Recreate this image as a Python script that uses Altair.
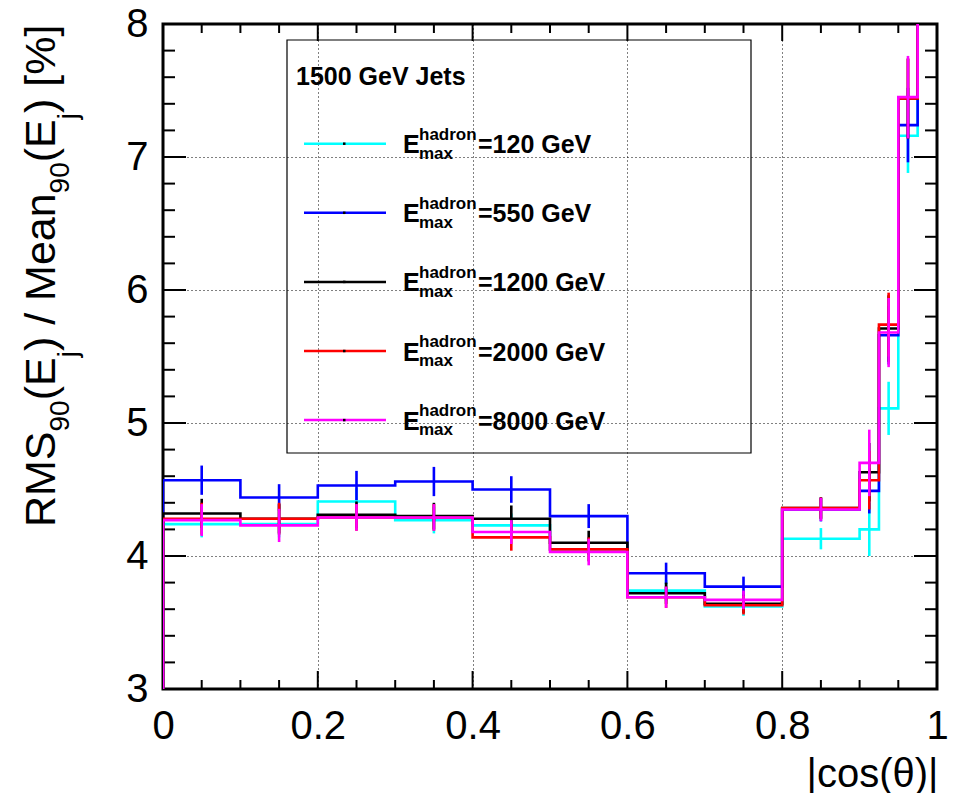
import altair as alt
import pandas as pd

# ---------------- data ----------------
edges = [0.0, 0.1, 0.2, 0.3, 0.4, 0.5, 0.6, 0.7, 0.8, 0.9, 0.925, 0.95, 0.975, 1.0]
series_labels = ["=120 GeV", "=550 GeV", "=1200 GeV", "=2000 GeV", "=8000 GeV"]
colors = ["#00FFFF", "#0000FF", "#000000", "#FF0000", "#FF00FF"]

vals_120 = [4.24, 4.24, 4.41, 4.27, 4.23, 4.05, 3.74, 3.62, 4.13, 4.20, 5.11, 7.16, 8.6]
vals_550 = [4.57, 4.44, 4.53, 4.56, 4.50, 4.30, 3.87, 3.77, 4.35, 4.49, 5.66, 7.24, 8.6]
vals_1200 = [4.32, 4.28, 4.31, 4.30, 4.28, 4.10, 3.72, 3.64, 4.36, 4.63, 5.71, 7.44, 8.6]
vals_2000 = [4.28, 4.28, 4.29, 4.29, 4.14, 4.05, 3.69, 3.63, 4.36, 4.57, 5.74, 7.44, 8.6]
vals_8000 = [4.27, 4.23, 4.29, 4.29, 4.18, 4.03, 3.69, 3.67, 4.35, 4.70, 5.68, 7.45, 8.6]

err_120 = [0.10, 0.10, 0.10, 0.10, 0.09, 0.09, 0.08, 0.07, 0.08, 0.20, 0.20, 0.28, 0.30]
err_550 = [0.11, 0.10, 0.11, 0.11, 0.10, 0.09, 0.08, 0.075, 0.09, 0.17, 0.22, 0.28, 0.30]
err_1200 = [0.11, 0.11, 0.10, 0.10, 0.10, 0.09, 0.08, 0.07, 0.08, 0.22, 0.25, 0.30, 0.30]
err_2000 = [0.12, 0.12, 0.10, 0.10, 0.10, 0.09, 0.08, 0.07, 0.08, 0.22, 0.24, 0.30, 0.30]
err_8000 = [0.12, 0.125, 0.10, 0.10, 0.09, 0.10, 0.08, 0.07, 0.086, 0.25, 0.26, 0.31, 0.30]

all_vals = [vals_120, vals_550, vals_1200, vals_2000, vals_8000]
all_errs = [err_120, err_550, err_1200, err_2000, err_8000]

x_major = [0.0, 0.2, 0.4, 0.6, 0.8, 1.0]
x_minor = [0.05, 0.1, 0.15, 0.25, 0.3, 0.35, 0.45, 0.5, 0.55, 0.65, 0.7, 0.75, 0.85, 0.9, 0.95]
y_major = [3, 4, 5, 6, 7, 8]
y_minor = [3.2, 3.4, 3.6, 3.8, 4.2, 4.4, 4.6, 4.8, 5.2, 5.4, 5.6, 5.8,
           6.2, 6.4, 6.6, 6.8, 7.2, 7.4, 7.6, 7.8]

# y title pieces: (text, kind) -- kind: main / sub / subj
y_title_parts = [("RMS", "main"), ("90", "sub"), ("(E", "main"), ("j", "subj"),
                 (") / Mean", "main"), ("90", "sub"), ("(E", "main"), ("j", "subj"),
                 (") [%]", "main")]

FONT = "Liberation Sans"
W, H = 774, 665
YMIN = 3.0

xs = alt.Scale(domain=[0, 1], nice=False, zero=False)
ys = alt.Scale(domain=[3, 8], nice=False, zero=False)

# ---------------- axes (grid + labels) ----------------
x_axis = alt.Axis(values=x_major, format="~g", labelFont=FONT, labelFontSize=40,
                  labelColor="black", labelPadding=17, labelFlush=False, labelOverlap=False,
                  ticks=False, domain=False, grid=True, gridColor="black",
                  gridDash=[1, 3], gridWidth=1, gridOpacity=1,
                  title="|cos(θ)|", titleFont=FONT, titleFontSize=40,
                  titleFontWeight="normal", titleColor="black",
                  titleAlign="right", titleBaseline="alphabetic",
                  titleX=W + 1, titleY=97, titleAngle=0)
y_axis = alt.Axis(values=y_major, format="d", labelFont=FONT, labelFontSize=40,
                  labelColor="black", labelPadding=15, labelFlush=False, labelOverlap=False,
                  labelBaseline="middle",
                  ticks=False, domain=False, grid=True, gridColor="black",
                  gridDash=[1, 3], gridWidth=1, gridOpacity=1, title=None)


def X(f):
    return alt.X(f, scale=xs, axis=x_axis)


def Y(f):
    return alt.Y(f, scale=ys, axis=y_axis)


xmaj_df = pd.DataFrame({"t": x_major})
xmin_df = pd.DataFrame({"t": x_minor})
ymaj_df = pd.DataFrame({"t": y_major})
ymin_df = pd.DataFrame({"t": y_minor})

layers = []
# bottom & top ticks
layers.append(alt.Chart(xmaj_df).mark_rule(color="black", strokeWidth=2).encode(
    x=X("t:Q"), y=alt.value(H), y2=alt.value(H - 18)))
layers.append(alt.Chart(xmaj_df).mark_rule(color="black", strokeWidth=2).encode(
    x=X("t:Q"), y=alt.value(0), y2=alt.value(17)))
layers.append(alt.Chart(xmin_df).mark_rule(color="black", strokeWidth=2).encode(
    x=X("t:Q"), y=alt.value(H), y2=alt.value(H - 9)))
layers.append(alt.Chart(xmin_df).mark_rule(color="black", strokeWidth=2).encode(
    x=X("t:Q"), y=alt.value(0), y2=alt.value(9)))
# left & right ticks
layers.append(alt.Chart(ymaj_df).mark_rule(color="black", strokeWidth=2).encode(
    y=Y("t:Q"), x=alt.value(0), x2=alt.value(23)))
layers.append(alt.Chart(ymaj_df).mark_rule(color="black", strokeWidth=2).encode(
    y=Y("t:Q"), x=alt.value(W), x2=alt.value(W - 23)))
layers.append(alt.Chart(ymin_df).mark_rule(color="black", strokeWidth=2).encode(
    y=Y("t:Q"), x=alt.value(0), x2=alt.value(12)))
layers.append(alt.Chart(ymin_df).mark_rule(color="black", strokeWidth=2).encode(
    y=Y("t:Q"), x=alt.value(W), x2=alt.value(W - 12)))

one = pd.DataFrame({"a": [0]})

# ---------------- y title built from pieces (sub-scripts) ----------------
GW = {"R": .722, "M": .833, "S": .667, "9": .556, "0": .556, "(": .333, "E": .667,
      "j": .222, ")": .333, " ": .278, "/": .278, "e": .556, "a": .556, "n": .556,
      "[": .278, "%": .889, "]": .278}
TF, SF = 43, 28
base_x = {"main": -108, "sub": -94, "subj": -86}
pos = 503.0
for txt, kind in y_title_parts:
    fs = TF if kind == "main" else SF
    layers.append(alt.Chart(one).mark_text(
        text=txt, angle=270, align="left", baseline="alphabetic",
        font=FONT, fontSize=fs, color="black").encode(
        x=alt.value(base_x[kind]), y=alt.value(pos)))
    pos -= sum(GW[c] for c in txt) * fs

# ---------------- legend box (layout) ----------------
layers.append(alt.Chart(one).mark_rect(filled=False, stroke="black", strokeWidth=1.2).encode(
    x=alt.value(124), x2=alt.value(588), y=alt.value(16), y2=alt.value(429)))
layers.append(alt.Chart(one).mark_text(text="1500 GeV Jets", align="left", baseline="alphabetic",
                                       font=FONT, fontSize=25, fontWeight="bold", color="black").encode(
    x=alt.value(133), y=alt.value(61)))

leg = pd.DataFrame({"row": list(range(len(series_labels))), "label": series_labels, "color": colors})
ROW0, DROW = 119.7, 69.1


def leg_y(off):
    return f"8 - ({ROW0} + {DROW} * datum.row + {off}) / {H / 5.0}"


layers.append(alt.Chart(leg).transform_calculate(ly=leg_y(0)).mark_rule(strokeWidth=2.5).encode(
    x=alt.value(141), x2=alt.value(223), y=Y("ly:Q"),
    color=alt.Color("color:N", scale=None)))
layers.append(alt.Chart(leg).transform_calculate(ly=leg_y(0)).mark_rule(
    strokeWidth=2.5, color="black").encode(
    x=alt.value(180), x2=alt.value(182.5), y=Y("ly:Q")))
layers.append(alt.Chart(leg).transform_calculate(ly=leg_y(9.5)).mark_text(
    text="E", align="left", baseline="alphabetic", font=FONT, fontSize=25,
    fontWeight="bold", color="black").encode(
    x=alt.value(240), y=Y("ly:Q")))
layers.append(alt.Chart(leg).transform_calculate(ly=leg_y(-4)).mark_text(
    text="hadron", align="left", baseline="alphabetic", font=FONT, fontSize=17,
    fontWeight="bold", color="black").encode(
    x=alt.value(256), y=Y("ly:Q")))
layers.append(alt.Chart(leg).transform_calculate(ly=leg_y(15)).mark_text(
    text="max", align="left", baseline="alphabetic", font=FONT, fontSize=17,
    fontWeight="bold", color="black").encode(
    x=alt.value(256), y=Y("ly:Q")))
layers.append(alt.Chart(leg).transform_calculate(ly=leg_y(9.5)).mark_text(
    align="left", baseline="alphabetic", font=FONT, fontSize=25,
    fontWeight="bold", color="black").encode(
    x=alt.value(315), y=Y("ly:Q"), text="label:N"))

# ---------------- histograms with error bars ----------------
for vals, errs, col in zip(all_vals, all_errs, colors):
    xs_pts, ys_pts = [edges[0]], [YMIN]
    for i, v in enumerate(vals):
        xs_pts += [edges[i], edges[i + 1]]
        ys_pts += [v, v]
    step = pd.DataFrame({"x": xs_pts, "y": ys_pts, "o": list(range(len(xs_pts)))})
    layers.append(alt.Chart(step).mark_line(color=col, strokeWidth=2.6, clip=True,
                                            interpolate="linear").encode(
        x=X("x:Q"), y=Y("y:Q"), order="o:Q"))
    centers = [(edges[i] + edges[i + 1]) / 2 for i in range(len(vals))]
    eb = pd.DataFrame({"xc": centers,
                       "lo": [v - e for v, e in zip(vals, errs)],
                       "hi": [v + e for v, e in zip(vals, errs)]})
    layers.append(alt.Chart(eb).mark_rule(color=col, strokeWidth=2.6, clip=True).encode(
        x=X("xc:Q"), y=Y("lo:Q"), y2="hi:Q"))

chart = alt.layer(*layers).properties(
    width=W, height=H,
    padding={"left": 163, "top": 24, "right": 20, "bottom": 104},
    autosize=alt.AutoSizeParams(type="none"),
    background="white",
).configure_view(stroke="black", strokeWidth=3)

chart.save("out.html", embed_options={"renderer": "svg", "actions": False})
